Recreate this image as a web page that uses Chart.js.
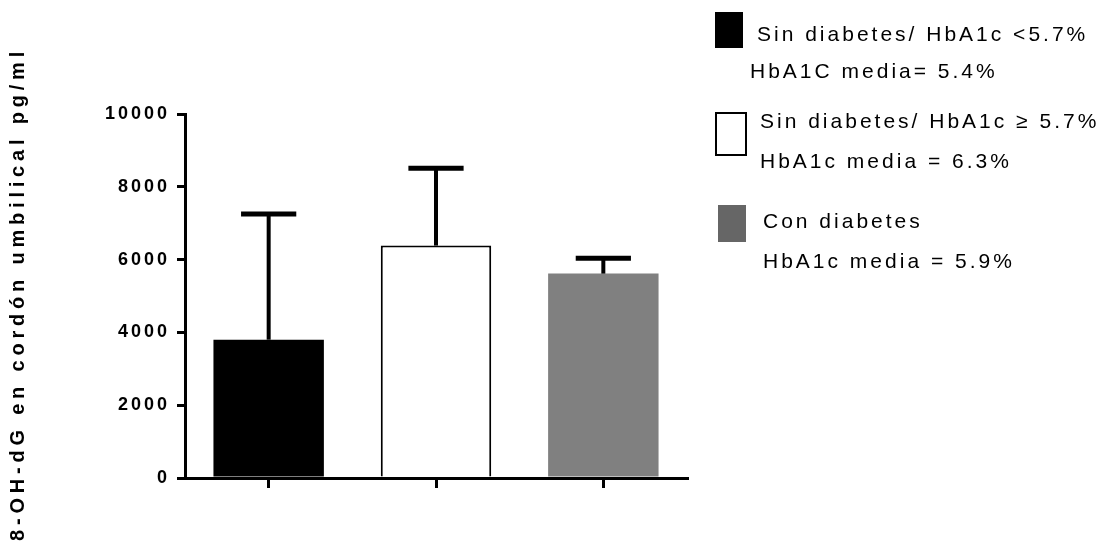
<!DOCTYPE html>
<html>
<head>
<meta charset="utf-8">
<script src="https://cdn.jsdelivr.net/npm/chart.js@4"></script>
<style>
  html, body { margin: 0; padding: 0; background: #fff; }
  canvas { display: block; }
</style>
</head>
<body>
<canvas id="chart" width="1102" height="552"></canvas>
<script>
// data
const groups = ["Sin diabetes/ HbA1c <5.7%", "Sin diabetes/ HbA1c \u2265 5.7%", "Con diabetes"];
const means = [3800, 6385, 5615];
const sdUpper = [3450, 2125, 425];
const yTicks = [0, 2000, 4000, 6000, 8000, 10000];
const yTitle = "8-OH-dG en cord\u00f3n umbilical pg/ml";

// legend text (two lines per group)
const legendLine1 = ["Sin diabetes/ HbA1c <5.7%", "Sin diabetes/ HbA1c \u2265 5.7%", "Con diabetes"];
const legendLine2 = ["HbA1C media= 5.4%", "HbA1c media = 6.3%", "HbA1c media = 5.9%"];

const barColors = ["#000000", "#ffffff", "#808080"];
const legendColors = ["#000000", "#ffffff", "#666666"];
const FONT = "'Liberation Sans', Arial, sans-serif";

// error bars (upper SD only) drawn over the bars
const errorBars = {
  id: "errorBars",
  afterDatasetsDraw(chart) {
    const ctx = chart.ctx;
    const y = chart.scales.y;
    const meta = chart.getDatasetMeta(0);
    ctx.save();
    ctx.strokeStyle = "#000";
    meta.data.forEach((bar, i) => {
      const top = y.getPixelForValue(means[i] + sdUpper[i]);
      const half = bar.width / 4;
      ctx.lineWidth = 4;
      ctx.beginPath();
      ctx.moveTo(bar.x, bar.y);
      ctx.lineTo(bar.x, top);
      ctx.stroke();
      ctx.lineWidth = 5;
      ctx.beginPath();
      ctx.moveTo(bar.x - half, top);
      ctx.lineTo(bar.x + half, top);
      ctx.stroke();
    });
    ctx.restore();
  }
};

// letter spacing for the tick labels, like the original
const spacing = {
  id: "spacing",
  beforeLayout(chart) { chart.ctx.letterSpacing = "3px"; },
  beforeDraw(chart) { chart.ctx.letterSpacing = "3px"; }
};

// y title and legend on the right
const extras = {
  id: "extras",
  afterDraw(chart) {
    const ctx = chart.ctx;
    const area = chart.chartArea;
    ctx.save();
    ctx.fillStyle = "#000";
    ctx.letterSpacing = "4.8px";
    ctx.font = "bold 20px " + FONT;
    ctx.translate(18, (area.top + area.bottom) / 2);
    ctx.rotate(-Math.PI / 2);
    ctx.textAlign = "center";
    ctx.textBaseline = "middle";
    ctx.fillText(yTitle, 2, 0);
    ctx.restore();

    const boxes = [[715, 12, 28, 36], [716, 113, 30, 42], [718, 205, 28, 37]];
    const line1 = [[757, 41], [760, 128], [763, 228]];
    const line2 = [[750, 78], [760, 168], [763, 268]];
    ctx.save();
    ctx.letterSpacing = "3px";
    ctx.font = "21px " + FONT;
    ctx.textBaseline = "alphabetic";
    legendLine1.forEach((t, i) => {
      const b = boxes[i];
      ctx.fillStyle = legendColors[i];
      ctx.fillRect(b[0], b[1], b[2], b[3]);
      if (legendColors[i] === "#ffffff") {
        ctx.strokeStyle = "#000";
        ctx.lineWidth = 2;
        ctx.strokeRect(b[0], b[1], b[2], b[3]);
      }
      ctx.fillStyle = "#000";
      ctx.fillText(t, line1[i][0], line1[i][1]);
      ctx.fillText(legendLine2[i], line2[i][0], line2[i][1]);
    });
    ctx.restore();
  }
};

new Chart(document.getElementById("chart"), {
  type: "bar",
  data: {
    labels: groups,
    datasets: [{
      data: means,
      backgroundColor: barColors,
      borderColor: ["#000000", "#000000", "#808080"],
      borderWidth: [0, 2, 0],
      barPercentage: 0.66,
      categoryPercentage: 1
    }]
  },
  options: {
    responsive: false,
    animation: false,
    devicePixelRatio: 1,
    layout: { padding: { top: 114, right: 415, bottom: 0, left: 0 } },
    plugins: { legend: { display: false }, tooltip: { enabled: false } },
    scales: {
      x: {
        grid: {
          offset: false,
          drawOnChartArea: false,
          color: "#000",
          lineWidth: 3,
          tickLength: 10
        },
        border: { color: "#000", width: 3 },
        ticks: { display: false },
        afterFit(scale) { scale.height = 74; }
      },
      y: {
        min: 0,
        max: 10000,
        afterBuildTicks(scale) { scale.ticks = yTicks.map(v => ({ value: v })); },
        grid: {
          drawOnChartArea: false,
          color: "#000",
          lineWidth: 3,
          tickLength: 8
        },
        border: { color: "#000", width: 3 },
        ticks: {
          color: "#000",
          padding: 7,
          font: { family: FONT, size: 18, weight: "bold" },
          callback: (v) => String(v)
        },
        afterFit(scale) { scale.width = 185; }
      }
    }
  },
  plugins: [spacing, errorBars, extras]
});
</script>
</body>
</html>
